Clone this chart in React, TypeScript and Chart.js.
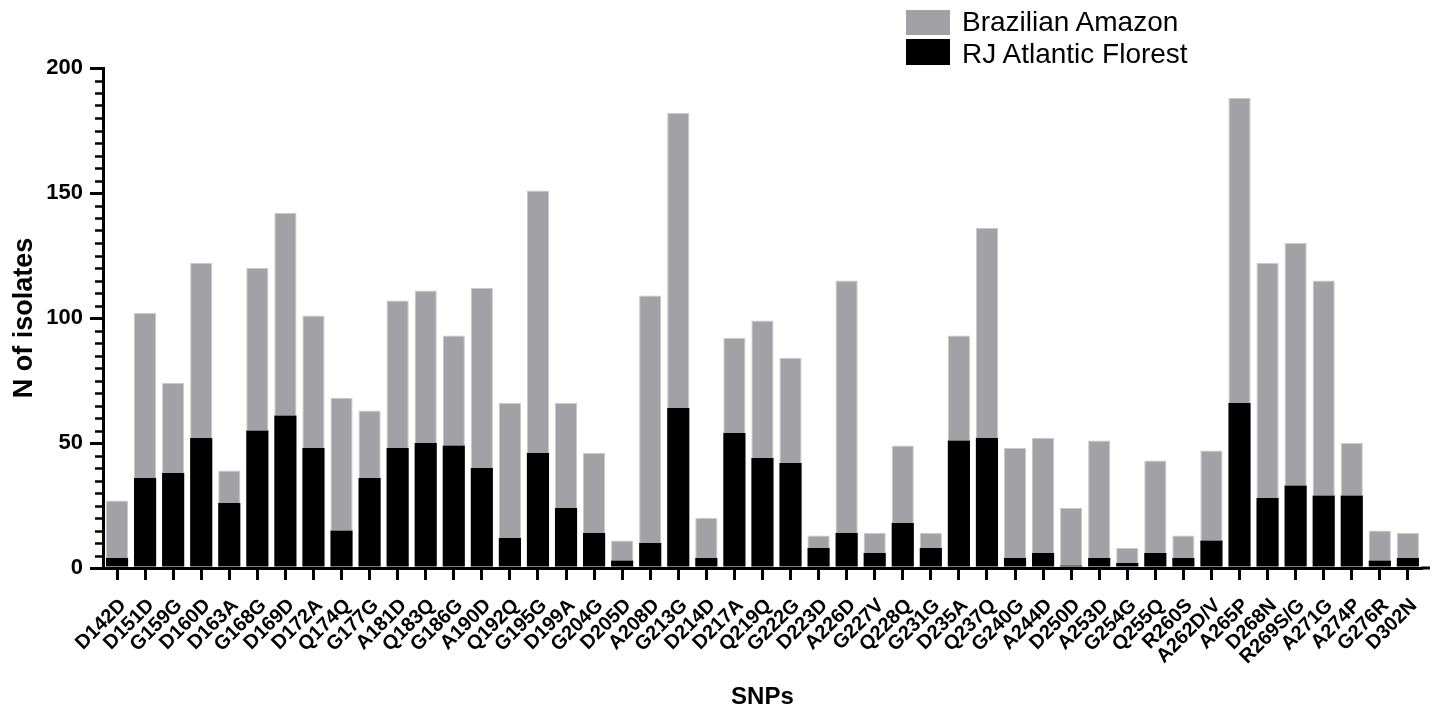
import { useEffect, useRef } from "react";
import { Chart, registerables } from "chart.js";

Chart.register(...registerables);

const categories = [
  "D142D", "D151D", "G159G", "D160D", "D163A", "G168G", "D169D", "D172A", "Q174Q", "G177G",
  "A181D", "Q183Q", "G186G", "A190D", "Q192Q", "G195G", "D199A", "G204G", "D205D", "A208D",
  "G213G", "D214D", "D217A", "Q219Q", "G222G", "D223D", "A226D", "G227V", "Q228Q", "G231G",
  "D235A", "Q237Q", "G240G", "A244D", "D250D", "A253D", "G254G", "Q255Q", "R260S", "A262D/V",
  "A265P", "D268N", "R269S/G", "A271G", "A274P", "G276R", "D302N",
];

const rjAtlanticFlorest = [
  4, 36, 38, 52, 26, 55, 61, 48, 15, 36,
  48, 50, 49, 40, 12, 46, 24, 14, 3, 10,
  64, 4, 54, 44, 42, 8, 14, 6, 18, 8,
  51, 52, 4, 6, 1, 4, 2, 6, 4, 11,
  66, 28, 33, 29, 29, 3, 4,
];

const brazilianAmazon = [
  23, 66, 36, 70, 13, 65, 81, 53, 53, 27,
  59, 61, 44, 72, 54, 105, 42, 32, 8, 99,
  118, 16, 38, 55, 42, 5, 101, 8, 31, 6,
  42, 84, 44, 46, 23, 47, 6, 37, 9, 36,
  122, 94, 97, 86, 21, 12, 10,
];

const yMin = 0;
const yMax = 200;
const yMajorStep = 50;
const yMinorStep = 5;

const FONT = "'Liberation Sans', Arial, Helvetica, sans-serif";
const GRAY = "#a2a2a6";
const BLACK = "#000000";

const axisExtrasPlugin = {
  id: "axisExtras",
  afterDraw(chart: any) {
    const y = chart.scales.y;
    const x = chart.scales.x;
    const ctx = chart.ctx;
    ctx.save();
    ctx.strokeStyle = "#000";
    ctx.lineWidth = 2.5;
    for (let v = yMin; v <= yMax; v += yMinorStep) {
      if (v % yMajorStep === 0) continue;
      const py = Math.round(y.getPixelForValue(v)) + 0.5;
      ctx.beginPath();
      ctx.moveTo(y.right - 8, py);
      ctx.lineTo(y.right, py);
      ctx.stroke();
    }
    // small extension of the x axis line past the last category
    ctx.lineWidth = 3;
    ctx.beginPath();
    ctx.moveTo(x.right - 1, x.top);
    ctx.lineTo(x.right + 8, x.top);
    ctx.stroke();
    ctx.restore();
  },
};

export default function App() {
  const canvasRef = useRef<HTMLCanvasElement | null>(null);

  useEffect(() => {
    if (!canvasRef.current) return;
    const chart = new Chart(canvasRef.current, {
      type: "bar",
      data: {
        labels: categories,
        datasets: [
          {
            label: "RJ Atlantic Florest",
            data: rjAtlanticFlorest,
            backgroundColor: BLACK,
            borderWidth: 0,
            barPercentage: 0.79,
            categoryPercentage: 1,
          },
          {
            label: "Brazilian Amazon",
            data: brazilianAmazon,
            backgroundColor: GRAY,
            borderColor: "#c9c9cc",
            borderWidth: 1,
            borderSkipped: "bottom",
            barPercentage: 0.79,
            categoryPercentage: 1,
          },
        ],
      },
      options: {
        responsive: false,
        animation: false,
        layout: { padding: { top: 68, right: 14, left: 0, bottom: 0 } },
        plugins: {
          legend: { display: false },
          tooltip: { enabled: false },
          title: { display: false },
        },
        scales: {
          x: {
            type: "category",
            stacked: true,
            afterFit(scale: any) {
              scale.height = 140;
            },
            grid: {
              display: true,
              drawOnChartArea: false,
              offset: false,
              drawTicks: true,
              tickLength: 12,
              lineWidth: 3,
              color: "#000",
              tickColor: "#000",
            },
            border: { display: true, color: "#000", width: 3 },
            ticks: {
              autoSkip: false,
              minRotation: 45,
              maxRotation: 45,
              padding: 14,
              labelOffset: 6,
              color: "#000",
              font: { family: FONT, size: 20, weight: "bold" },
            },
            title: {
              display: true,
              text: "SNPs",
              color: "#000",
              font: { family: FONT, size: 24, weight: "bold", lineHeight: 1.2 },
              padding: { top: 0, bottom: -4 },
            },
          },
          y: {
            stacked: true,
            min: yMin,
            max: yMax,
            afterFit(scale: any) {
              scale.width = 103;
            },
            grid: {
              display: true,
              drawOnChartArea: false,
              drawTicks: true,
              tickLength: 13,
              lineWidth: 3,
              color: "#000",
              tickColor: "#000",
            },
            border: { display: true, color: "#000", width: 3 },
            ticks: {
              stepSize: yMajorStep,
              padding: 7,
              color: "#000",
              font: { family: FONT, size: 22, weight: "bold" },
            },
            title: {
              display: true,
              text: "N of isolates",
              color: "#000",
              font: { family: FONT, size: 27, weight: "bold", lineHeight: 1.2 },
              padding: { top: 8, bottom: 0 },
            },
          },
        },
      },
      plugins: [axisExtrasPlugin],
    });
    return () => chart.destroy();
  }, []);

  const legendText: React.CSSProperties = {
    position: "absolute",
    left: 962,
    fontFamily: FONT,
    fontSize: 28,
    lineHeight: "28px",
    color: "#000",
    whiteSpace: "nowrap",
  };

  return (
    <div
      style={{
        position: "fixed",
        left: 0,
        top: 0,
        width: 1439,
        height: 708,
        background: "#fff",
        overflow: "hidden",
      }}
    >
      <canvas ref={canvasRef} width={1439} height={708} style={{ display: "block" }} />
      <div style={{ position: "absolute", left: 906, top: 10, width: 44, height: 25, background: GRAY }} />
      <div style={{ position: "absolute", left: 906, top: 39, width: 44, height: 26, background: BLACK }} />
      <div style={{ ...legendText, top: 8 }}>Brazilian Amazon</div>
      <div style={{ ...legendText, top: 40 }}>RJ Atlantic Florest</div>
    </div>
  );
}
